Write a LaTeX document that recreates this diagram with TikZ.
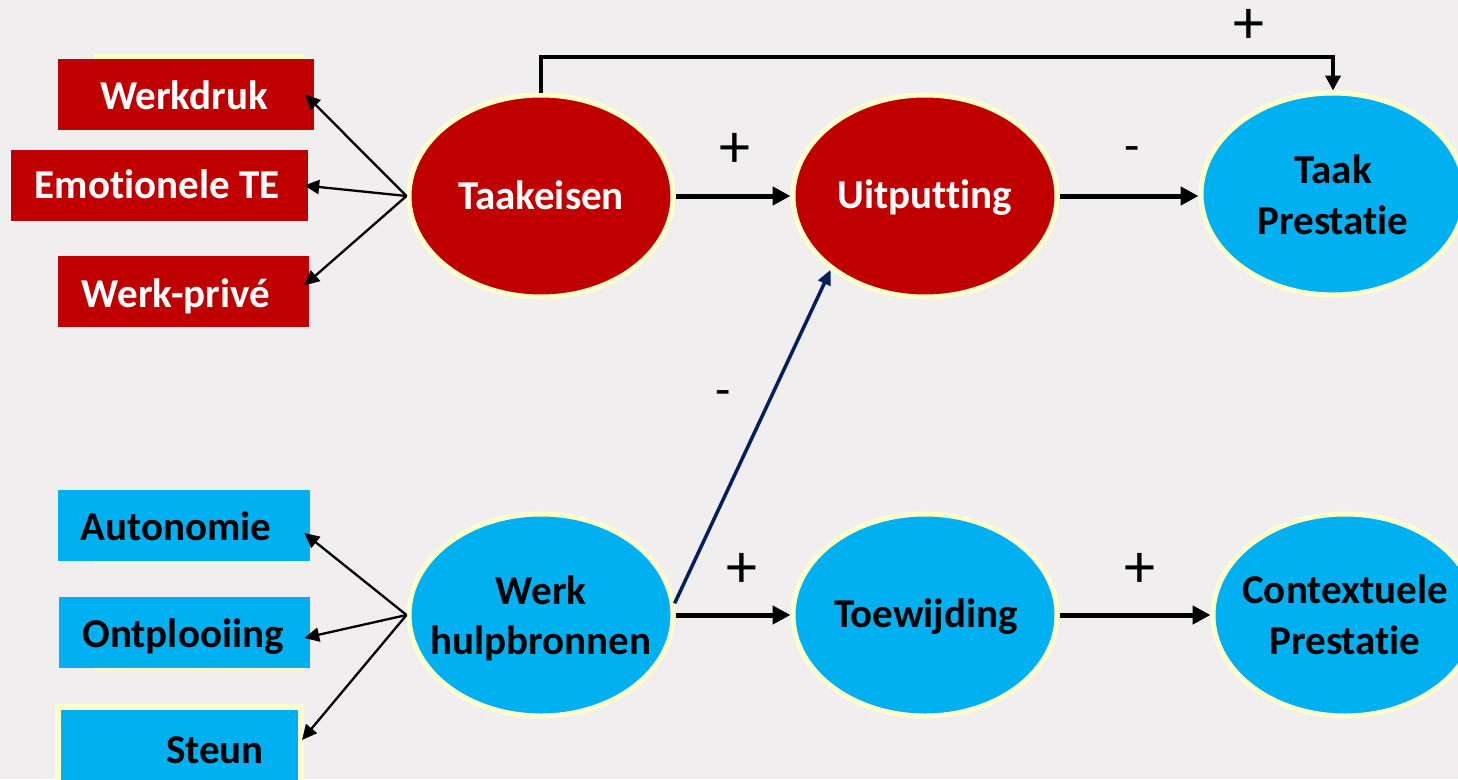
\documentclass[tikz,border=0pt]{standalone}
\usepackage{fontspec}
\setmainfont{Carlito}[Ligatures=NoCommon]
\usetikzlibrary{shapes.geometric,arrows.meta}
\definecolor{bg}{RGB}{240,238,239}
\definecolor{dred}{RGB}{192,0,0}
\definecolor{sky}{RGB}{0,176,240}
\definecolor{cream}{RGB}{255,255,204}
\definecolor{navy}{RGB}{0,32,96}

\begin{document}
\begin{tikzpicture}[x=1pt,y=-1pt,
  oval/.style={ellipse, draw=cream, line width=5pt, minimum width=264pt,
    minimum height=202pt, inner sep=0pt},
  redoval/.style={oval, fill=dred},
  blueoval/.style={oval, fill=sky},
  ovaltext/.style={inner sep=0pt, align=center,
    font=\fontsize{41}{51}\selectfont\bfseries},
  redbox/.style={rectangle, inner sep=0pt, fill=dred},
  bluebox/.style={rectangle, inner sep=0pt, fill=sky},
  boxtext/.style={anchor=base, inner sep=0pt,
    font=\fontsize{41}{48}\selectfont\bfseries},
  plus/.style={inner sep=0pt, font=\fontsize{62}{66}\selectfont},
  minus/.style={inner sep=0pt, font=\fontsize{50}{56}\selectfont},
  bigarrow/.style={line width=5pt, -{Triangle[length=18pt,width=18pt]}},
  fanarrow/.style={line width=2.3pt, -{Triangle[length=15pt,width=14pt]}},
]
\useasboundingbox (0,0) rectangle (1458,779);
\fill[bg] (0,0) rectangle (1458,779);
\clip (0,0) rectangle (1458,779);

% pale strips peeking out behind the boxes
\fill[cream] (94,54) rectangle (304,100);
\fill[cream] (94,540) rectangle (304,564);
\fill[cream] (94,640) rectangle (304,671);

% job demands
\node[redbox, minimum width=256pt, minimum height=71pt] (wd) at (186,94.5) {};
\node[redbox, minimum width=297pt, minimum height=71pt] (emo) at (159.5,185.5) {};
\node[redbox, minimum width=251pt, minimum height=71pt] (wp) at (183.5,291.5) {};
\node[boxtext, text=white] (twd) at (184,109) {Werkdruk};
\node[boxtext, text=white] (temo) at (157,198) {Emotionele TE};
\node[boxtext, text=white] (twp) at (176,307) {Werk-privé};

% job resources
\node[bluebox, minimum width=252pt, minimum height=71pt] (au) at (184,525.5) {};
\node[bluebox, minimum width=251pt, minimum height=71pt] (on) at (184.5,632.5) {};
\node[bluebox, draw=cream, line width=6pt, minimum width=243pt, minimum height=93pt] (st) at (179.5,753.5) {};
\node[boxtext] (tau) at (176,540) {Autonomie};
\node[boxtext] (ton) at (183,647) {Ontplooiing};
\node[boxtext] (tst) at (215,763) {Steun};

% constructs
\node[redoval] (te) at (541,196) {};
\node[redoval] (uit) at (925,196) {};
\node[blueoval] (tp) at (1333,194) {};
\node[blueoval] (wh) at (541,615) {};
\node[blueoval] (toe) at (925,615) {};
\node[blueoval] (cp) at (1345,615) {};
\node[ovaltext, text=white, anchor=base] (tte) at (541,209) {Taakeisen};
\node[ovaltext, text=white, anchor=base] (tuit) at (925,208) {Uitputting};
\node[ovaltext, anchor=base] (ttoe) at (926,627) {Toewijding};
\node[ovaltext] (ttp) at (1333,195) {Taak\\Prestatie};
\node[ovaltext, font=\fontsize{41}{50}\selectfont\bfseries] (twh) at (541,618) {Werk\\hulpbronnen};
\node[ovaltext] (tcp) at (1345,614.5) {Contextuele\\Prestatie};

% paths between constructs
\draw[bigarrow] (te.east) -- (uit.west);
\draw[bigarrow] (uit.east) -- (uit.east -| tp.west);
\draw[bigarrow] (wh.east) -- (toe.west);
\draw[bigarrow] (toe.east) -- (cp.west);
\coordinate (topy) at (0,57);
\draw[line width=4pt, -{Triangle[length=15pt,width=15pt]}]
  (te.north) |- (tp.north |- topy) -- (tp.north);
\draw[navy, line width=3.5pt, -{Triangle[length=15pt,width=13pt]}] (wh.5) -- (uit.218);

% indicators
\draw[fanarrow] (te.west) -- ([xshift=-9pt]wd.east);
\draw[fanarrow] (te.west) -- ([xshift=-4pt]emo.east);
\draw[fanarrow] (te.west) -- ([xshift=-5pt,yshift=6pt]wp.east);
\draw[fanarrow] (wh.west) -- ([xshift=-6pt,yshift=-7.5pt]au.east);
\draw[fanarrow] (wh.west) -- ([xshift=-6pt,yshift=-5.5pt]on.east);
\draw[fanarrow] (wh.west) -- ([xshift=-2pt,yshift=13.5pt]st.east);

% signs
\node[plus] (s1) at (735,150.5) {+};
\node[minus] (s2) at (1132.5,155) {-};
\node[plus] (s3) at (1249,26) {+};
\node[minus] (s4) at (723.5,398.5) {-};
\node[plus] (s5) at (742,570) {+};
\node[plus] (s6) at (1140,570) {+};
\end{tikzpicture}
\end{document}
